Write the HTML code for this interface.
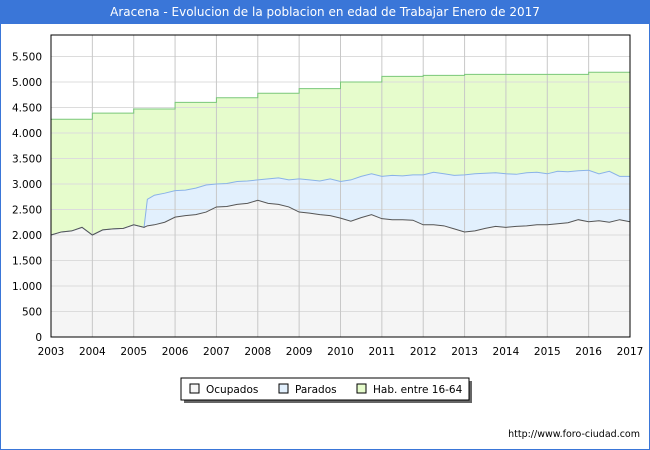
<!DOCTYPE html>
<html><head><meta charset="utf-8"><style>
body{margin:0;background:#fff;font-family:"DejaVu Sans","Liberation Sans",sans-serif}
#wrap{position:relative;width:648px;height:448px;border:1px solid #3a76d8;overflow:hidden}
#title{position:absolute;left:0;top:0;width:648px;height:23px;background:#3a76d8;color:#fff;font-size:12px;line-height:23px;text-align:center}
</style></head><body>
<div id="wrap">
<div id="title">Aracena - Evolucion de la poblacion en edad de Trabajar Enero de 2017</div>
<svg id="svg" width="650" height="450" style="position:absolute;left:-1px;top:-1px;font-family:'DejaVu Sans',sans-serif"></svg>
</div>
<script>
const yearsHab=[2003,2004,2005,2006,2007,2008,2009,2010,2011,2012,2013,2014,2015,2016];
const habValues=[4270,4390,4470,4600,4690,4780,4870,5000,5110,5130,5150,5150,5150,5190];
const times=[2003,2003.25,2003.5,2003.75,2004,2004.25,2004.5,2004.75,2005,2005.25,2005.33,2005.5,2005.75,2006,2006.25,2006.5,2006.75,2007,2007.25,2007.5,2007.75,2008,2008.25,2008.5,2008.75,2009,2009.25,2009.5,2009.75,2010,2010.25,2010.5,2010.75,2011,2011.25,2011.5,2011.75,2012,2012.25,2012.5,2012.75,2013,2013.25,2013.5,2013.75,2014,2014.25,2014.5,2014.75,2015,2015.25,2015.5,2015.75,2016,2016.25,2016.5,2016.75,2017];
const ocupados=[2000,2060,2080,2150,2000,2100,2120,2130,2200,2150,2180,2200,2250,2350,2380,2400,2450,2550,2560,2600,2620,2680,2620,2600,2550,2450,2430,2400,2380,2330,2270,2340,2400,2320,2300,2300,2290,2200,2200,2180,2120,2060,2080,2130,2170,2150,2170,2180,2200,2200,2220,2240,2300,2260,2280,2250,2300,2260];
const activos=[2000,2060,2080,2150,2000,2100,2120,2130,2200,2150,2700,2780,2820,2870,2880,2920,2980,3000,3010,3050,3060,3080,3100,3120,3080,3100,3080,3060,3100,3050,3080,3150,3200,3150,3170,3160,3180,3180,3230,3200,3170,3180,3200,3210,3220,3200,3190,3220,3230,3200,3250,3240,3260,3270,3200,3250,3150,3150];
const yTicks=[0,500,1000,1500,2000,2500,3000,3500,4000,4500,5000,5500];
const yTickLabels=["0","500","1.000","1.500","2.000","2.500","3.000","3.500","4.000","4.500","5.000","5.500"];
const xTicks=[2003,2004,2005,2006,2007,2008,2009,2010,2011,2012,2013,2014,2015,2016,2017];
const L=51,R=630,T=35,B=337;
const X=v=>L+(v-2003)*(R-L)/14;
const Y=v=>B-v*0.051;
const svg=document.getElementById('svg');const NS='http://www.w3.org/2000/svg';
function add(tag,attrs,name,txt){const e=document.createElementNS(NS,tag);for(const k in attrs)e.setAttribute(k,attrs[k]);


if(txt!==undefined)e.textContent=txt;svg.appendChild(e);return e;}
add('rect',{x:L,y:T,width:R-L,height:B-T,fill:'#fff'},'plot-background');
let hp=`M${X(2003)},${B}`;
yearsHab.forEach((y,i)=>{hp+=` L${X(y)},${Y(habValues[i])} L${X(i<yearsHab.length-1?yearsHab[i+1]:2017)},${Y(habValues[i])}`;});
hp+=` L${X(2017)},${B} Z`;
add('path',{d:hp,fill:'#e6fccc'},'hab-area');
let ap=`M${X(times[0])},${B}`;times.forEach((t,i)=>ap+=` L${X(t)},${Y(activos[i])}`);ap+=` L${X(2017)},${B} Z`;
add('path',{d:ap,fill:'#e2f0fd'},'parados-area');
let op=`M${X(times[0])},${B}`;times.forEach((t,i)=>op+=` L${X(t)},${Y(ocupados[i])}`);op+=` L${X(2017)},${B} Z`;
add('path',{d:op,fill:'#f5f5f5'},'ocupados-area');
yTicks.forEach((v,i)=>{add('line',{x1:L,x2:R,y1:Y(v),y2:Y(v),stroke:'#dcdcdc'},'y-gridline');
add('text',{x:L-9,y:Y(v)+4,'text-anchor':'end','font-size':10.5,fill:'#000'},'y-tick-label',yTickLabels[i]);});
xTicks.forEach(v=>{add('line',{x1:X(v),x2:X(v),y1:T,y2:B,stroke:'#c8c8c8'},'x-gridline');
add('text',{x:X(v),y:B+18,'text-anchor':'middle','font-size':10.5,fill:'#000'},'x-tick-label',String(v));});
add('path',{d:hp.replace(/ L[\d.]+,337 Z$/,'').replace(/^M[\d.]+,337 L/,'M'),fill:'none',stroke:'#7ac77a'},'hab-line');
let al='';times.forEach((t,i)=>al+=(i?' L':'M')+X(t)+','+Y(activos[i]));
add('path',{d:al,fill:'none',stroke:'#8ab2e8'},'parados-line');
let ol='';times.forEach((t,i)=>ol+=(i?' L':'M')+X(t)+','+Y(ocupados[i]));
add('path',{d:ol,fill:'none',stroke:'#555'},'ocupados-line');
add('rect',{x:L,y:T,width:R-L,height:B-T,fill:'none',stroke:'#000'},'plot-border');
add('rect',{x:184,y:381,width:288,height:22,fill:'#666'},'legend-shadow');
add('rect',{x:181,y:378,width:288,height:22,fill:'#fff',stroke:'#000'},'legend');
[['Ocupados','#f5f5f5',190],['Parados','#e2f0fd',279],['Hab. entre 16-64','#e6fccc',357]].forEach(([n,c,x])=>{
add('rect',{x:x,y:384,width:9,height:9,fill:c,stroke:'#000'},'legend-swatch');
add('text',{x:x+16,y:393,'font-size':10.5,fill:'#000'},'legend-entry',n);});
add('text',{x:640,y:437,'text-anchor':'end','font-size':9.5,fill:'#000'},'source-url','http://www.foro-ciudad.com');
</script></body></html>
